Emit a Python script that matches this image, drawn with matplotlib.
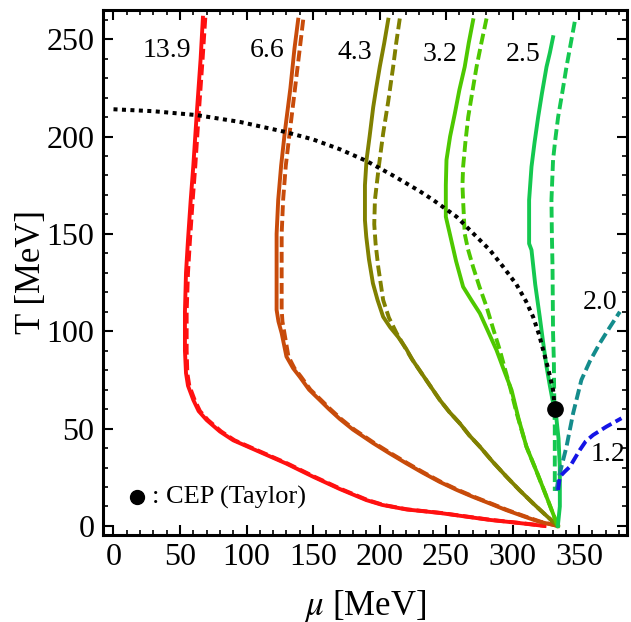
import matplotlib
matplotlib.use("Agg")
import matplotlib.pyplot as plt
from matplotlib.ticker import MultipleLocator

plt.rcParams['font.family'] = ['Liberation Serif', 'DejaVu Serif']
plt.rcParams['mathtext.fontset'] = 'stix'

# curve labels (ratio values) and where they sit
labels = ['13.9', '6.6', '4.3', '3.2', '2.5', '2.0', '1.2']
label_mu = [40, 115.5, 181.5, 245.5, 308, 365.5, 372]
label_T = [244, 244, 243, 242, 242, 115, 36.5]

# 13.9 (red)
red_mu = [67.2, 65.5, 62.5, 60, 58, 56, 54.5, 53.7, 53.7, 54.5, 56, 60, 64, 70, 80, 90,
          110, 130, 150, 170, 190, 202, 220, 245, 265, 283, 305, 324]
red_T = [261, 240, 211, 185, 167, 147, 130, 110, 90, 78.5, 72, 64.7, 59, 54.4, 48.5, 44,
         38, 32, 25.3, 19, 13.3, 10.8, 8.5, 6.7, 4.8, 3.1, 1.5, 0]
red_d_mu = [69, 67, 64, 61.5, 59.5, 57.5, 56, 55, 55, 55.5, 57, 61, 65, 71, 81, 91,
            111, 131, 151, 171, 191, 203, 221, 246, 266, 284, 306, 325]

# 6.6 (orange)
or_mu = [138.8, 136, 133, 128.8, 126, 123.8, 122.6, 122.6, 122.6, 124, 126.4, 130, 135, 140,
         147, 155, 162, 170, 180, 195, 207, 220, 232, 245, 258, 270, 283, 295, 308, 320, 334]
or_T = [260, 245, 225, 202.4, 185, 167.4, 150, 130, 111, 105, 99, 87, 81, 76.6,
        70, 64.7, 60, 55, 49.5, 42.6, 37.5, 32.2, 27.5, 22.7, 18.5, 15, 11.5, 8.2, 5, 2.2, 0]
or_d_mu = [142.6, 140, 136.5, 132.5, 129.5, 127.5, 126.4, 126.4, 126.4, 127, 128.5, 131.5, 136, 141,
           148, 156, 163, 171, 181, 196, 208, 221, 233, 246, 259, 271, 284, 296, 309, 321, 334]

# 4.3 (olive)
ol_mu = [206.5, 203.5, 200.2, 197.5, 195.2, 192.5, 190.2, 189, 189, 189, 190, 192, 195, 198.5,
         202.7, 208, 214, 220, 225, 231, 236, 245.3, 252.5, 260.3, 267.5, 275.4, 285, 295.4,
         305, 315.4, 325, 334]
ol_T = [260, 248, 236, 225, 215, 200, 188, 175, 167, 157, 148.5, 137, 124.6, 116,
        107.4, 102, 97, 91, 85, 79, 74, 64.7, 58.5, 52.7, 46.5, 40.7, 33, 25.3,
        18.5, 11.6, 5.5, 0]
ol_d_mu = [215.2, 212.5, 210.2, 206.5, 202.7, 199.5, 196.5, 196, 197, 199, 202.7, 207, 212.8,
           218, 224, 230, 236, 245.3, 252.5, 260.3, 267.5, 275.4, 285, 295.4, 305, 315.4, 325, 334]
ol_d_T = [260.6, 248, 235.8, 218, 201.6, 185, 167.4, 155, 145, 133, 116, 107, 99,
          93, 86, 80, 74, 64.7, 58.5, 52.7, 46.5, 40.7, 33, 25.3, 18.5, 11.6, 5.5, 0]

# 3.2 (light green)
lg_mu = [270.3, 267, 264, 260, 256.6, 253, 250.3, 249.8, 249.8, 249.8, 252.8, 257.5, 262.8, 269,
         275.4, 281.5, 287.9, 293.5, 299.2, 304.5, 310.4, 318, 325.5, 330, 334]
lg_T = [259.7, 248, 235.8, 224, 211.9, 200, 188, 175, 167, 158.8, 150, 136, 122.8, 116,
        109.2, 100, 90.3, 80, 69.8, 55, 40.7, 28, 15, 7, 0]
lg_d_mu = [280.4, 276.5, 272.9, 269.5, 266.6, 264.5, 262.8, 262.3, 262.8, 264, 266.5, 270.3,
           275, 280.4, 285.5, 290.4, 294.5, 298, 303, 310.4, 318, 325.5, 330, 334]
lg_d_T = [260.6, 248, 235.8, 222, 210, 197, 184.5, 175, 167, 150, 142, 133,
          123, 112.6, 101, 90.3, 80, 71.5, 58, 40.7, 28, 15, 7, 0]

# 2.5 (green)
g_mu = [330.4, 328, 325.5, 322, 319.2, 316.5, 314.2, 312.4, 312.4, 312.4, 314.2, 317, 320.4,
        323, 325.5, 328, 330, 332.5, 334.5, 335.5, 335.5, 334]
g_T = [251, 243, 235.8, 222, 210, 197, 184.5, 167.4, 155, 145, 141.7, 124, 107.4,
       94, 81.8, 72, 64.7, 57.9, 45, 30, 10, 0]
g_d_mu = [346.7, 343.5, 340.5, 337.2, 334.2, 332, 330.4, 329.2, 329.5, 330, 330.4, 331, 331.2,
          331.7, 331.7, 331.7]
g_d_T = [258.9, 247, 235.8, 222, 210, 198, 188, 167.4, 150, 133, 99, 85, 71.5, 50, 30, 18]

# 2.0 (teal, dashed only)
t_mu = [333, 334.2, 336.7, 340.5, 345.5, 351.7, 358, 365.5, 373, 380.6]
t_T = [18, 23.6, 30.4, 40.7, 57.9, 75, 84.5, 93.8, 102, 110]

# 1.2 (blue, dashed only)
b_mu = [334.2, 335.5, 339, 343, 350.5, 355, 360.5, 370.5, 381.8]
b_T = [18.5, 25.3, 27.8, 30.4, 39, 43.5, 46.7, 51, 55.3]

# crossover line and CEP
k_mu = [0, 30, 62.5, 95, 128.8, 150, 170, 190, 210, 230, 240.3, 257.9, 270, 282.9,
        293, 302.9, 310, 315.4, 320, 323, 327, 330.4, 331.7]
k_T = [214, 213, 211, 207.5, 202.4, 198.5, 193.5, 187.5, 180, 172, 167.4, 158.8, 150.5, 141.7,
       133, 124, 115.5, 107.4, 98, 90.3, 80, 70, 60]
cep_mu = 331.7
cep_T = 60

c_red = '#FF1010'
c_or = '#C84B0A'
c_ol = '#808000'
c_lg = '#4EC800'
c_g = '#14C850'
c_t = '#148C8C'
c_b = '#1414E6'

fig = plt.figure(figsize=(6.31, 6.22), dpi=100)
ax = fig.add_axes([0.163, 0.140, 0.8307, 0.844])

lw = 2.8
dash = (2.8, 1.2)
ax.plot(red_mu, red_T, color=c_red, lw=lw)
ax.plot(red_d_mu, red_T, color=c_red, lw=lw, dashes=dash)
ax.plot(or_mu, or_T, color=c_or, lw=lw)
ax.plot(or_d_mu, or_T, color=c_or, lw=lw, dashes=dash)
ax.plot(ol_mu, ol_T, color=c_ol, lw=lw)
ax.plot(ol_d_mu, ol_d_T, color=c_ol, lw=lw, dashes=dash)
ax.plot(lg_mu, lg_T, color=c_lg, lw=lw)
ax.plot(lg_d_mu, lg_d_T, color=c_lg, lw=lw, dashes=dash)
ax.plot(g_mu, g_T, color=c_g, lw=lw)
ax.plot(g_d_mu, g_d_T, color=c_g, lw=lw, dashes=dash)
ax.plot(t_mu, t_T, color=c_t, lw=lw, dashes=dash)
ax.plot(b_mu, b_T, color=c_b, lw=lw, dashes=dash)
ax.plot(k_mu, k_T, color='black', lw=2.9, dashes=(1, 1.1))
ax.plot([cep_mu], [cep_T], 'o', color='black', ms=11)

for s, x, y in zip(labels, label_mu, label_T):
    ax.text(x, y, s, fontsize=20, ha='center', va='center')

# legend for the CEP marker
ax.plot([0.065], [0.072], 'o', color='black', ms=10, transform=ax.transAxes)
ax.text(0.093, 0.072, ': CEP (Taylor)', fontsize=19, ha='left', va='center',
        transform=ax.transAxes)

ax.set_xlim(-8, 386)
ax.set_ylim(-4.6, 265)
ax.xaxis.set_major_locator(MultipleLocator(50))
ax.xaxis.set_minor_locator(MultipleLocator(10))
ax.yaxis.set_major_locator(MultipleLocator(50))
ax.yaxis.set_minor_locator(MultipleLocator(10))
ax.tick_params(which='both', direction='in', top=True, right=True)
ax.tick_params(which='major', length=7, width=1.5, labelsize=23, pad=6)
ax.tick_params(which='minor', length=3.5, width=1.2)
for sp in ax.spines.values():
    sp.set_linewidth(2.2)

ax.set_xlabel(r'$\mu$ [MeV]', fontsize=25, labelpad=11)
ax.set_ylabel('T [MeV]', fontsize=25, labelpad=-1)

fig.savefig('out.png', dpi=100)
